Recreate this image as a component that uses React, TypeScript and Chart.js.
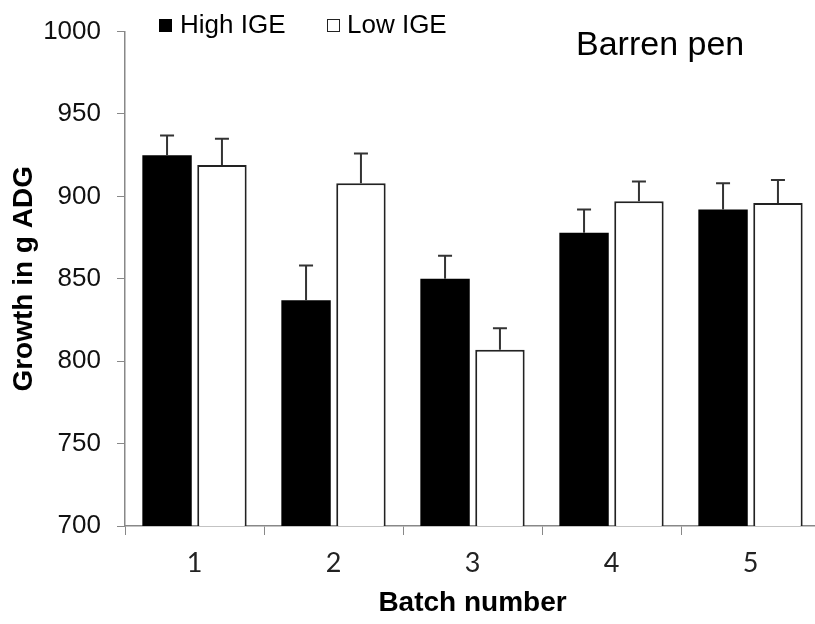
import React, { useEffect, useRef } from 'react';
import { Chart, registerables } from 'chart.js';

Chart.register(...registerables);

const categories = ['1', '2', '3', '4', '5'];
const highIGE = [925, 837, 850, 878, 892];
const highIGEErr = [12, 21, 14, 14, 16];
const lowIGE = [919, 908, 807, 897, 896];
const lowIGEErr = [16, 18, 13, 12, 14];
const seriesLabels = ['High IGE', 'Low IGE'];
const panelTitle = 'Barren pen';
const xTitle = 'Batch number';
const yTitle = 'Growth in g ADG';
const yMin = 700;
const yMax = 1000;
const yStep = 50;

const errorBarPlugin = {
  id: 'errorBars',
  afterDatasetsDraw(chart: any) {
    const { ctx } = chart;
    const y = chart.scales.y;
    chart.data.datasets.forEach((ds: any, di: number) => {
      const meta = chart.getDatasetMeta(di);
      meta.data.forEach((bar: any, i: number) => {
        const v = ds.data[i];
        const e = ds.errors[i];
        const x = bar.x;
        const yb = bar.y;
        const yt = y.getPixelForValue(v + e);
        ctx.save();
        ctx.strokeStyle = '#333';
        ctx.lineWidth = 2;
        ctx.beginPath();
        ctx.moveTo(x, yb);
        ctx.lineTo(x, yt);
        ctx.moveTo(x - 7, yt);
        ctx.lineTo(x + 7, yt);
        ctx.stroke();
        ctx.restore();
      });
    });
  },
};

const overlayPlugin = {
  id: 'overlay',
  afterDraw(chart: any) {
    const { ctx } = chart;
    ctx.save();
    const ds = chart.data.datasets;
    ctx.font = '26px "Liberation Sans", Arial, sans-serif';
    ctx.textBaseline = 'alphabetic';
    ctx.fillStyle = ds[0].backgroundColor;
    ctx.fillRect(159, 19, 13, 13);
    ctx.fillStyle = '#000';
    ctx.fillText(ds[0].label, 180, 33);
    ctx.fillStyle = '#fff';
    ctx.fillRect(327, 19, 12, 13);
    ctx.strokeStyle = '#222';
    ctx.lineWidth = 1;
    ctx.strokeRect(327.5, 19.5, 12, 12);
    ctx.fillStyle = '#000';
    ctx.fillText(ds[1].label, 347, 33);
    ctx.font = '34px "Liberation Sans", Arial, sans-serif';
    ctx.fillText(panelTitle, 576, 55);
    ctx.restore();
  },
};

export default function App() {
  const ref = useRef<HTMLCanvasElement | null>(null);

  useEffect(() => {
    if (!ref.current) return;
    const chart = new Chart(ref.current, {
      type: 'bar',
      data: {
        labels: categories,
        datasets: [
          {
            label: seriesLabels[0],
            data: highIGE,
            errors: highIGEErr,
            backgroundColor: '#000',
            borderColor: '#000',
            borderWidth: 0,
            categoryPercentage: 0.79,
            barPercentage: 0.9,
          } as any,
          {
            label: seriesLabels[1],
            data: lowIGE,
            errors: lowIGEErr,
            backgroundColor: '#fff',
            borderColor: '#222',
            borderWidth: 2,
            borderSkipped: 'bottom',
            categoryPercentage: 0.79,
            barPercentage: 0.9,
          } as any,
        ],
      },
      options: {
        responsive: false,
        animation: false,
        devicePixelRatio: 1,
        layout: { padding: { top: 31, left: 0, right: 0, bottom: 0 } },
        plugins: {
          legend: { display: false },
          title: { display: false },
          tooltip: { enabled: false },
        },
        scales: {
          x: {
            grid: {
              display: true,
              drawOnChartArea: false,
              drawTicks: true,
              tickLength: 9,
              color: '#888',
              offset: true,
            },
            border: { display: true, color: '#888', width: 1.5 },
            ticks: {
              color: '#222',
              font: { family: 'Lato, "Liberation Sans", sans-serif', size: 27 },
              padding: 12,
            },
            title: {
              display: true,
              text: xTitle,
              color: '#000',
              font: { family: '"Liberation Sans", Arial, sans-serif', size: 28, weight: 'bold' },
              padding: { top: 0, bottom: 4 },
            },
            afterFit: (s: any) => {
              s.height = 98;
            },
          },
          y: {
            min: yMin,
            max: yMax,
            grid: {
              display: true,
              drawOnChartArea: false,
              drawTicks: true,
              tickLength: 8,
              color: '#888',
            },
            border: { display: true, color: '#888', width: 1.5 },
            ticks: {
              stepSize: yStep,
              color: '#111',
              font: { family: '"Liberation Sans", Arial, sans-serif', size: 26 },
              padding: 16,
              callback: (v: any) => String(v),
            },
            title: {
              display: true,
              text: yTitle,
              color: '#000',
              font: { family: '"Liberation Sans", Arial, sans-serif', size: 28, weight: 'bold' },
              padding: { top: 7, bottom: 0 },
            },
            afterFit: (s: any) => {
              s.width = 125;
            },
          },
        },
      },
      plugins: [errorBarPlugin, overlayPlugin],
    } as any);
    return () => chart.destroy();
  }, []);

  return (
    <div style={{ position: 'fixed', left: 0, top: 0, width: 820, height: 624, background: '#fff' }}>
      <canvas ref={ref} width={820} height={624} style={{ display: 'block' }} />
    </div>
  );
}
